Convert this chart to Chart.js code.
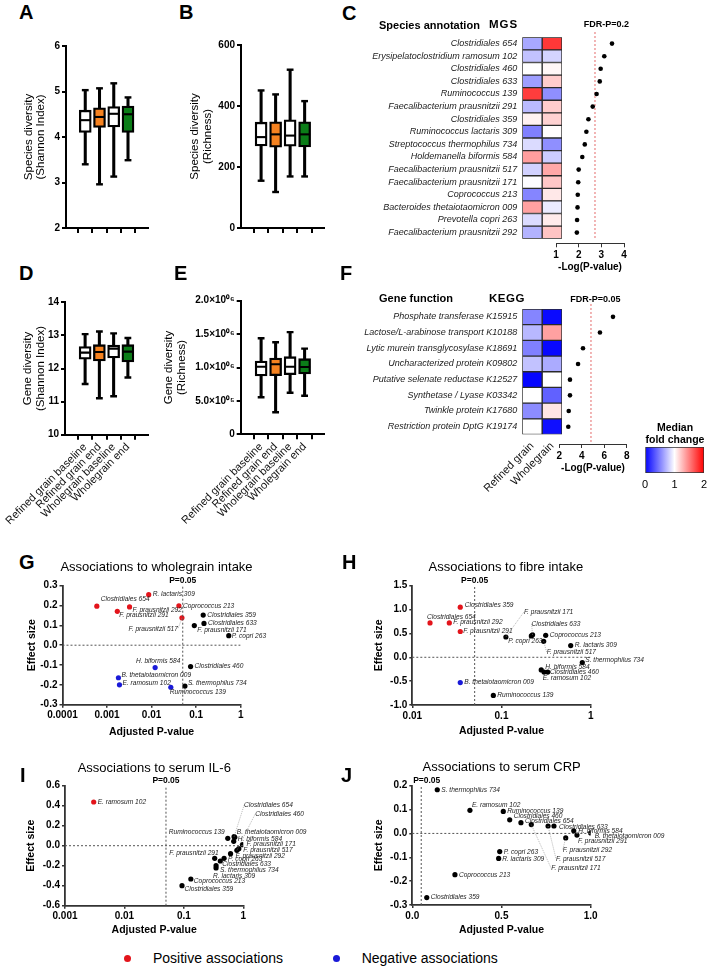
<!DOCTYPE html>
<html><head><meta charset="utf-8">
<script src="https://cdn.jsdelivr.net/npm/chart.js@4.4.1/dist/chart.umd.min.js"></script>
<style>
body{margin:0;background:#fff;}
#fig{position:relative;width:707px;height:966px;overflow:hidden;background:#fff;font-family:"Liberation Sans",Arial,Helvetica,sans-serif;color:#000;}
.t{position:absolute;white-space:nowrap;line-height:1;}
canvas{position:absolute;}
</style></head><body><div id="fig"></div>
<script>
// ---------------- DATA ----------------
const groups = ['Refined grain baseline','Refined grain end','Wholegrain baseline','Wholegrain end'];
// A: species Shannon
const aMin=[3.40,2.96,3.13,3.49], aQ1=[4.10,4.21,4.22,4.10], aMed=[4.37,4.44,4.51,4.50], aQ3=[4.59,4.64,4.67,4.68], aMax=[5.03,5.07,5.18,4.87];
const aTicks=[2,3,4,5,6], aTickLabels=['2','3','4','5','6'];
// B: species richness
const bMin=[155,118,169,169], bQ1=[269,265,268,266], bMed=[298,307,303,307], bQ3=[347,348,355,348], bMax=[451,438,519,416];
const bTicks=[0,200,400,600], bTickLabels=['0','200','400','600'];
// D: gene Shannon
const dMin=[11.53,11.10,11.16,11.73], dQ1=[12.28,12.23,12.32,12.20], dMed=[12.48,12.50,12.60,12.51], dQ3=[12.66,12.72,12.71,12.72], dMax=[13.04,13.12,13.06,12.92];
const dTicks=[10,11,12,13,14], dTickLabels=['10','11','12','13','14'];
// E: gene richness
const eMin=[554000,329000,623000,578000], eQ1=[873000,877000,892000,903000], eMed=[1012000,1048000,1012000,1007000], eQ3=[1097000,1142000,1162000,1132000], eMax=[1437000,1377000,1530000,1282000];
const eTicks=[0,500000,1000000,1500000,2000000], eTickLabels=['0','5.0×10⁰⁵','1.0×10⁰⁶','1.5×10⁰⁶','2.0×10⁰⁶'];

// C: MGS heatmap + -log(P)
const dietGroups=['Refined grain','Wholegrain'];
const species=['Clostridiales 654','Erysipelatoclostridium ramosum 102','Clostridiales 460','Clostridiales 633','Ruminococcus 139','Faecalibacterium prausnitzii 291','Clostridiales 359','Ruminococcus lactaris 309','Streptococcus thermophilus 734','Holdemanella biformis 584','Faecalibacterium prausnitzii 517','Faecalibacterium prausnitzii 171','Coprococcus 213','Bacteroides thetaiotaomicron 009','Prevotella copri 263','Faecalibacterium prausnitzii 292'];
const mgsRefinedFC=[0.66,0.76,1.00,0.62,1.76,0.73,1.05,0.50,0.86,1.38,0.82,0.99,0.52,1.37,0.86,0.70];
const mgsWholeFC=[1.78,0.83,1.03,1.20,0.56,1.20,1.18,1.01,0.56,0.80,1.34,1.22,1.09,0.92,1.08,1.23];
const mgsLogP=[3.47,3.13,2.97,2.93,2.79,2.62,2.43,2.34,2.27,2.16,2.00,1.98,1.96,1.95,1.93,1.92];
const mgsFdr=2.72, mgsXTicks=[1,2,3,4];
// F: KEGG heatmap + -log(P)
const kegg=['Phosphate transferase K15915','Lactose/L-arabinose transport K10188','Lytic murein transglycosylase K18691','Uncharacterized protein K09802','Putative selenate reductase K12527','Synthetase / Lyase K03342','Twinkle protein K17680','Restriction protein DptG K19174'];
const keggRefinedFC=[0.52,0.72,0.50,0.76,0.02,1.00,0.55,1.00];
const keggWholeFC=[0.04,1.37,0.03,0.67,1.00,0.38,1.10,0.06];
const keggLogP=[6.78,5.62,4.11,3.67,2.95,2.95,2.84,2.80];
const keggFdr=4.82, keggXTicks=[2,4,6,8];
const fcTicks=[0,1,2];

// G: wholegrain intake
const gNames=['Clostridiales 654','R. lactaris 309','F. prausnitzii 292','F. prausnitzii 291','Coprococcus 213','F. prausnitzii 517','Clostridiales 359','Clostridiales 633','F. prausnitzii 171','P. copri 263','H. biformis 584','Clostridiales 460','B. thetaiotaomicron 009','E. ramosum 102','S. thermophilus 734','Ruminococcus 139'];
const gPval=[0.00059,0.0086,0.0032,0.0017,0.041,0.048,0.144,0.15,0.091,0.54,0.012,0.075,0.0018,0.0019,0.056,0.027];
const gEffect=[0.197,0.255,0.193,0.171,0.199,0.138,0.152,0.110,0.099,0.048,-0.113,-0.108,-0.164,-0.200,-0.206,-0.212];
const gSig=['pos','pos','pos','pos','pos','pos','ns','ns','ns','ns','neg','ns','neg','neg','ns','neg'];
const gXTicks=[0.0001,0.001,0.01,0.1,1], gXLabels=['0.0001','0.001','0.01','0.1','1'];
const gYTicks=[-0.3,-0.2,-0.1,0,0.1,0.2,0.3], gYLabels=['-0.3','-0.2','-0.1','0.0','0.1','0.2','0.3'];
// H: fibre intake
const hNames=['Clostridiales 359','Clostridiales 654','F. prausnitzii 292','F. prausnitzii 291','B. thetaiotaomicron 009','F. prausnitzii 171','P. copri 263','Clostridiales 633','Coprococcus 213','F. prausnitzii 517','R. lactaris 309','S. thermophilus 734','H. biformis 584','Clostridiales 460','E. ramosum 102','Ruminococcus 139'];
const hPval=[0.0345,0.0158,0.026,0.0345,0.0345,0.112,0.216,0.223,0.313,0.297,0.597,0.805,0.279,0.30,0.33,0.081];
const hEffect=[1.05,0.72,0.72,0.54,-0.53,0.425,0.447,0.47,0.46,0.335,0.245,-0.11,-0.266,-0.31,-0.31,-0.80];
const hSig=['pos','pos','pos','pos','neg','ns','ns','ns','ns','ns','ns','ns','ns','ns','ns','ns'];
const hXTicks=[0.01,0.1,1], hXLabels=['0.01','0.1','1'];
const hYTicks=[-1,-0.5,0,0.5,1,1.5], hYLabels=['-1.0','-0.5','0.0','0.5','1.0','1.5'];
// I: serum IL-6
const iNames=['E. ramosum 102','Ruminococcus 139','B. thetaiotaomicron 009','H. biformis 584','Clostridiales 654','Clostridiales 460','F. prausnitzii 171','F. prausnitzii 517','F. prausnitzii 292','F. prausnitzii 291','P. copri 263','Clostridiales 633','S. thermophilus 734','R. lactaris 309','Coprococcus 213','Clostridiales 359'];
const iPval=[0.00304,0.548,0.72,0.69,0.70,0.78,0.97,0.84,0.61,0.33,0.475,0.41,0.348,0.348,0.131,0.093];
const iEffect=[0.437,0.074,0.084,0.044,0.09,-0.046,0.01,-0.03,-0.08,-0.126,-0.126,-0.153,-0.20,-0.223,-0.333,-0.40];
const iSig=['pos','ns','ns','ns','ns','ns','ns','ns','ns','ns','ns','ns','ns','ns','ns','ns'];
const iXTicks=[0.001,0.01,0.1,1], iXLabels=['0.001','0.01','0.1','1'];
const iYTicks=[-0.6,-0.4,-0.2,0,0.2,0.4,0.6], iYLabels=['-0.6','-0.4','-0.2','0.0','0.2','0.4','0.6'];
// J: serum CRP
const jNames=['S. thermophilus 734','E. ramosum 102','Ruminococcus 139','Clostridiales 460','Clostridiales 654','F. prausnitzii 171','F. prausnitzii 517','Clostridiales 633','H. biformis 584','F. prausnitzii 291','B. thetaiotaomicron 009','F. prausnitzii 292','P. copri 263','R. lactaris 309','Coprococcus 213','Clostridiales 359'];
const jPval=[0.14,0.323,0.51,0.546,0.609,0.667,0.761,0.794,0.905,0.923,1.0,0.86,0.49,0.484,0.239,0.081];
const jEffect=[0.183,0.097,0.092,0.057,0.045,0.037,0.031,0.031,0.011,-0.007,0.002,-0.019,-0.076,-0.105,-0.173,-0.269];
const jSig=['ns','ns','ns','ns','ns','ns','ns','ns','ns','ns','ns','ns','ns','ns','ns','ns'];
const jXTicks=[0,0.5,1], jXLabels=['0.0','0.5','1.0'];
const jYTicks=[-0.3,-0.2,-0.1,0,0.1,0.2], jYLabels=['-0.3','-0.2','-0.1','0.0','0.1','0.2'];
const pCut=0.05;

// label placement (pixel offsets from each point: dx, dy, align, leader line)
const gPlace=[[4,-6.5,'left',0],[4,0,'left',0],[3,3,'left',0],[2,4,'left',0],[4,0,'left',0],[-4,11,'right',1],[4,0,'left',0],[4,0,'left',0],[3,5,'left',0],[3,0,'left',0],[3,-6,'center',0],[4,0,'left',0],[3,-2.5,'left',0],[3,-2,'left',0],[3,-2.5,'left',0],[-1,5,'left',0]];
const hPlace=[[4.5,-2,'left',0],[-3,-6,'left',0],[4,-0.5,'left',0],[3,0,'left',0],[4,0,'left',0],[18,-25,'left',1],[-6,5,'center',0],[-1,-11,'left',1],[4,0,'left',0],[3,11,'left',1],[4,0,'left',0],[3,-2,'left',0],[4,-3,'left',0],[6,0,'left',0],[-5,6,'left',0],[4,0,'left',0]];
const iPlace=[[4,0,'left',0],[-3,-6,'right',0],[2,-5,'left',0],[4,-2.5,'left',0],[10,-31.5,'left',1],[18.3,-36.3,'left',1],[4,-1,'left',0],[4.5,1.5,'left',0],[5,2,'left',0],[4,-5.5,'right',0],[4,1,'left',0],[2,3,'left',0],[4,4,'left',0],[-3,8,'left',0],[3,2,'left',0],[2.5,3,'left',0]];
const jPlace=[[4,0,'left',0],[2,-5.5,'left',0],[4,0,'left',0],[4,-4,'left',0],[4,-2,'left',0],[20,44,'left',1],[8,33,'left',1],[5,1,'left',0],[4.5,0.5,'left',0],[1,6.5,'left',0],[4,3,'left',0],[-3,12,'left',1],[4,1,'left',0],[3.5,1,'left',0],[4,0,'left',0],[4,0,'left',0]];

// ---------------- HELPERS ----------------
const FONT='"Liberation Sans", Arial, Helvetica, sans-serif';
Chart.defaults.font.family=FONT;
Chart.defaults.color='#000';
const fig=document.getElementById('fig');
const ORANGE='#f58220', GREEN='#0b7d18';
const boxFill=['#ffffff',ORANGE,'#ffffff',GREEN];

function fixedTicks(vals){ return s=>{ s.ticks=vals.map(v=>({value:v})); }; }
function fcColor(v){
  if(v<=1){ const t=Math.max(0,v); const c=Math.round(255*t); return `rgb(${c},${c},255)`; }
  const t=Math.min(1,v-1); const c=Math.round(255*(1-t)); return `rgb(255,${c},${c})`;
}
function make(box, area, cfg, t){
  t=t||{};
  const c=document.createElement('canvas');
  c.width=box.w; c.height=box.h;
  c.style.left=box.x+'px'; c.style.top=box.y+'px';
  fig.appendChild(c);
  const xs=cfg.options.scales.x, ys=cfg.options.scales.y;
  const xVis=xs.display!==false, yVis=ys.display!==false;
  const pad={top:area.t-box.y, right:box.x+box.w-area.r, left:0, bottom:0};
  if(yVis){ const w=area.l-box.x; ys.afterFit=s=>{s.width=w; s.paddingTop=0; s.paddingBottom=0; s.paddingLeft=0; s.paddingRight=0;}; }
  else pad.left=area.l-box.x;
  if(xVis){ const h=box.y+box.h-area.b; xs.afterFit=s=>{s.height=h; s.paddingLeft=0; s.paddingRight=0; s.paddingTop=0; s.paddingBottom=0;}; }
  else pad.bottom=box.y+box.h-area.b;
  if(t.y){ const lhm=t.y.lh||1.2; const lh=t.y.size*lhm;
    ys.title={display:true,text:t.y.text,color:'#000',font:{size:t.y.size,weight:t.y.weight||'normal',lineHeight:lhm},padding:{top:t.y.cx-box.x-lh/2,bottom:0}}; }
  if(t.x){ const lh=t.x.size*1.2;
    xs.title={display:true,text:t.x.text,color:'#000',font:{size:t.x.size,weight:t.x.weight||'normal',lineHeight:1.2},padding:{top:0,bottom:box.y+box.h-t.x.cy-lh/2}}; }
  cfg.options.layout={padding:pad};
  cfg.options.responsive=false; cfg.options.animation=false; cfg.options.devicePixelRatio=1;
  cfg.options.plugins=Object.assign({legend:{display:false},tooltip:{enabled:false},title:{display:false}}, cfg.options.plugins||{});
  return new Chart(c,cfg);
}
function txt(s, x, y, size, opts){
  opts=opts||{};
  const d=document.createElement('div'); d.className='t';
  d.innerHTML=s;
  d.style.fontSize=size+'px';
  d.style.fontWeight=opts.bold?'bold':'normal';
  if(opts.italic) d.style.fontStyle='italic';
  if(opts.ls) d.style.letterSpacing=opts.ls+'px';
  const lh=opts.lh||size;
  d.style.lineHeight=lh+'px';
  d.style.top=(y - lh*0.5)+'px';
  d.style.left=x+'px';
  if(opts.center){ d.style.transform='translateX(-50%)'; d.style.textAlign='center'; }
  fig.appendChild(d); return d;
}

// ---------------- BOX PLOTS ----------------
function boxPanel(box, area, xr, yMin, yMax, yTicks, yLabels, st, yTitle, yTitleCx, showX){
  const [mn,q1,md,q3,mx]=st;
  const ix=groups.map((g,i)=>i);
  const pts=arr=>ix.map(i=>({x:i,y:arr[i]}));
  const cfg={type:'bar', data:{datasets:[
    {type:'bar', data:ix.map(i=>({x:i,y:[mn[i],mx[i]]})), backgroundColor:'#000', barThickness:2.4, grouped:false, order:4},
    {type:'bar', data:ix.map(i=>({x:i,y:[q1[i],q3[i]]})), backgroundColor:boxFill, borderColor:'#000', borderWidth:2.3, borderSkipped:false, barThickness:12, grouped:false, order:3},
    {type:'line', data:pts(md), showLine:false, pointStyle:'line', pointRadius:5.5, pointBorderWidth:2.1, pointBorderColor:'#000', order:1},
    {type:'line', data:pts(mx), showLine:false, pointStyle:'line', pointRadius:3.4, pointBorderWidth:2.4, pointBorderColor:'#000', order:2},
    {type:'line', data:pts(mn), showLine:false, pointStyle:'line', pointRadius:3.4, pointBorderWidth:2.4, pointBorderColor:'#000', order:2}
  ]}, options:{scales:{
    x:{type:'linear', min:xr[0], max:xr[1], afterBuildTicks:fixedTicks(ix),
       grid:{display:true, drawOnChartArea:false, drawTicks:true, tickLength:5, color:'#000', lineWidth:2},
       border:{display:true, color:'#000', width:2},
       ticks:{display:showX, autoSkip:false, minRotation:45, maxRotation:45, padding:1, color:'#111', font:{size:11}, callback:(v,i)=>groups[i]}},
    y:{type:'linear', min:yMin, max:yMax, afterBuildTicks:fixedTicks(yTicks),
       grid:{display:true, drawOnChartArea:false, drawTicks:true, tickLength:4, color:'#000', lineWidth:2},
       border:{display:true, color:'#000', width:2},
       ticks:{padding:2, font:{size:10, weight:'bold'}, callback:(v,i)=>yLabels[i]}}
  }}};
  return make(box, area, cfg, {y:{text:yTitle, size:11.5, cx:yTitleCx, lh:1.1}});
}
boxPanel({x:0,y:30,w:165,h:210},{l:66,t:46,r:148,b:228},[-0.632,3.684],2,6,aTicks,aTickLabels,[aMin,aQ1,aMed,aQ3,aMax],['Species diversity','(Shannon Index)'],28.5,false);
boxPanel({x:170,y:30,w:165,h:210},{l:241,t:45,r:324,b:228},[-0.67,3.62],0,600,bTicks,bTickLabels,[bMin,bQ1,bMed,bQ3,bMax],['Species diversity','(Richness)'],195,false);
boxPanel({x:0,y:290,w:165,h:240},{l:65,t:302.3,r:148,b:434.7},[-0.684,3.684],10,14,dTicks,dTickLabels,[dMin,dQ1,dMed,dQ3,dMax],['Gene diversity','(Shannon Index)'],28,true);
boxPanel({x:150,y:290,w:185,h:240},{l:240.7,t:300.7,r:324,b:434.3},[-0.69,3.62],0,2000000,eTicks,eTickLabels,[eMin,eQ1,eMed,eQ3,eMax],['Gene diversity','(Richness)'],169.3,true);

// ---------------- HEATMAPS ----------------
function heatPanel(box, area, rows, fcA, fcB, showX){
  const cfg={type:'bar', data:{labels:rows, datasets:[
    {data:rows.map(()=>[0,1]), backgroundColor:fcA.map(fcColor), borderColor:'#2a2a2a', borderWidth:1, borderSkipped:false, barPercentage:1, categoryPercentage:1, grouped:false},
    {data:rows.map(()=>[1,2]), backgroundColor:fcB.map(fcColor), borderColor:'#2a2a2a', borderWidth:1, borderSkipped:false, barPercentage:1, categoryPercentage:1, grouped:false}
  ]}, options:{indexAxis:'y', scales:{
    x:{type:'linear', min:0, max:2, display:showX, afterBuildTicks:fixedTicks([0.5,1.5]),
       grid:{display:false, drawTicks:false}, border:{display:false},
       ticks:{autoSkip:false, minRotation:45, maxRotation:45, padding:5, color:'#111', font:{size:11}, callback:(v,i)=>dietGroups[i]}},
    y:{type:'category', grid:{display:false, drawTicks:false}, border:{display:false},
       ticks:{autoSkip:false, padding:5, color:'#222', font:{size:9, style:'italic'}}}
  }}};
  return make(box, area, cfg);
}
heatPanel({x:340,y:30,w:230,h:215},{l:522.3,t:37.3,r:562,b:238.7},species,mgsRefinedFC,mgsWholeFC,false);
heatPanel({x:330,y:300,w:240,h:200},{l:522.3,t:309,r:562,b:434.5},kegg,keggRefinedFC,keggWholeFC,true);

function dotPanel(box, area, vals, xMin, xMax, xTicks, fdr, yMax, fdrY, fdrText, fdrDx, fdrDy, titleCy){
  const fdrLabel={id:'fdrLabel', afterDatasetsDraw(ch){
    const c=ch.ctx; c.save(); c.font='bold 9px '+FONT; c.fillStyle='#000'; c.textAlign='center'; c.textBaseline='middle';
    c.fillText(fdrText, ch.scales.x.getPixelForValue(fdr)+fdrDx, ch.chartArea.top+fdrDy); c.restore(); }};
  const cfg={type:'scatter', data:{datasets:[
    {data:vals.map((v,i)=>({x:v,y:i})), pointRadius:2.3, backgroundColor:'#000', borderWidth:0},
    {type:'line', data:[{x:fdr,y:fdrY[0]},{x:fdr,y:fdrY[1]}], borderColor:'#e46a6a', borderWidth:1, borderDash:[2,2], pointRadius:0, clip:false}
  ]}, options:{scales:{
    x:{type:'linear', min:xMin, max:xMax, afterBuildTicks:fixedTicks(xTicks),
       grid:{display:true, drawOnChartArea:false, tickLength:4, color:'#333', lineWidth:1},
       border:{display:true, color:'#333', width:1},
       ticks:{padding:2, font:{size:10, weight:'bold'}, callback:v=>String(v)}},
    y:{type:'linear', reverse:true, min:-0.5, max:yMax, display:false}
  }}, plugins:[fdrLabel]};
  return make(box, area, cfg, {x:{text:'-Log(P-value)', size:10, weight:'bold', cy:titleCy}});
}
dotPanel({x:545,y:15,w:95,h:260},{l:556,t:37.3,r:624,b:243.3},mgsLogP,1,4,mgsXTicks,mgsFdr,15.85,[-0.92,15.59],'FDR-P=0.2',11.5,-12.3,267);
dotPanel({x:548,y:290,w:90,h:185},{l:559.3,t:309,r:626.7,b:444},keggLogP,2,8,keggXTicks,keggFdr,8.1,[-0.82,8.1],'FDR-P=0.05',4.3,-9,468.3);

// colour bar
(function(){
  const cfg={type:'bar', data:{labels:['fold'], datasets:[
    {data:[[fcTicks[0],fcTicks[2]]], borderColor:'#333', borderWidth:1, borderSkipped:false, barPercentage:1, categoryPercentage:1,
     backgroundColor:(ctx)=>{ const a=ctx.chart.chartArea; if(!a) return '#fff';
       const g=ctx.chart.ctx.createLinearGradient(a.left,0,a.right,0);
       g.addColorStop(0,fcColor(0)); g.addColorStop(0.5,fcColor(1)); g.addColorStop(1,fcColor(2)); return g; }}
  ]}, options:{indexAxis:'y', scales:{
    x:{type:'linear', min:0, max:2, afterBuildTicks:fixedTicks(fcTicks), z:1,
       grid:{display:true, drawOnChartArea:true, drawTicks:false, lineWidth:1, color:c=>(c.tick&&c.tick.value===1)?'#444':'rgba(0,0,0,0)'},
       border:{display:false}, ticks:{padding:5, font:{size:11}, callback:v=>String(v)}},
    y:{type:'category', display:false}
  }}};
  make({x:630,y:440,w:77,h:55},{l:645,t:447,r:704,b:473},cfg);
})();

// ---------------- SCATTER PANELS ----------------
function scatterPanel(box, area, P){
  const col={pos:'#e3141b', neg:'#1a1ad8', ns:'#000'};
  const sets=['ns','pos','neg'].map(k=>({
    data:P.names.map((n,i)=>P.sig[i]===k?{x:P.p[i],y:P.e[i]}:null).filter(Boolean),
    backgroundColor:col[k], borderWidth:0, pointRadius:2.6 }));
  const dash={type:'line', borderColor:'#555', borderWidth:1, borderDash:[2,2], pointRadius:0};
  sets.unshift(Object.assign({data:[{x:pCut,y:P.yTicks[0]},{x:pCut,y:P.yTicks[P.yTicks.length-1]}]},dash));
  sets.unshift(Object.assign({data:[{x:P.xTicks[0],y:0},{x:P.xTicks[P.xTicks.length-1],y:0}]},dash));
  const labels={id:'ptLabels', afterDatasetsDraw(ch){
    const c=ch.ctx, xs=ch.scales.x, ys=ch.scales.y;
    c.save();
    c.font='italic 6.6px '+FONT; c.textBaseline='middle';
    P.names.forEach((n,i)=>{
      const px=xs.getPixelForValue(P.p[i]), py=ys.getPixelForValue(P.e[i]);
      const [dx,dy,al,lead]=P.place[i];
      const lx=px+dx, ly=py+dy;
      if(lead){ c.strokeStyle='#8a8a8a'; c.lineWidth=0.6; c.setLineDash([1,1]); c.beginPath(); c.moveTo(px,py); c.lineTo(lx,ly); c.stroke(); c.setLineDash([]); }
      c.fillStyle='#222'; c.textAlign=al; c.fillText(n,lx,ly);
    });
    c.font='bold 8.5px '+FONT; c.fillStyle='#000'; c.textAlign='center';
    c.fillText('P=0.05', xs.getPixelForValue(pCut)+P.pDx, ch.chartArea.top-4.8);
    c.restore();
  }};
  const cfg={type:'scatter', data:{datasets:sets}, options:{scales:{
    x:{type:P.xType, min:P.xTicks[0], max:P.xTicks[P.xTicks.length-1], afterBuildTicks:fixedTicks(P.xTicks),
       grid:{display:true, drawOnChartArea:false, tickLength:3, color:'#333', lineWidth:1.5},
       border:{display:true, color:'#333', width:1.8},
       ticks:{padding:2, autoSkip:false, maxRotation:0, font:{size:10, weight:'bold'}, callback:(v,i)=>P.xLabels[i]}},
    y:{type:'linear', min:P.yTicks[0], max:P.yTicks[P.yTicks.length-1], afterBuildTicks:fixedTicks(P.yTicks),
       grid:{display:true, drawOnChartArea:false, tickLength:3, color:'#333', lineWidth:1.5},
       border:{display:true, color:'#333', width:1.8},
       ticks:{padding:2, font:{size:10, weight:'bold'}, callback:(v,i)=>P.yLabels[i]}}
  }}, plugins:[labels]};
  return make(box, area, cfg, {x:{text:'Adjusted P-value', size:10.5, weight:'bold', cy:P.xTitleCy}, y:{text:'Effect size', size:10.5, weight:'bold', cx:P.yTitleCx}});
}
scatterPanel({x:0,y:575,w:300,h:170},{l:62.5,t:585.7,r:240.7,b:704.7},{xType:'logarithmic',names:gNames,p:gPval,e:gEffect,sig:gSig,place:gPlace,xTicks:gXTicks,xLabels:gXLabels,yTicks:gYTicks,yLabels:gYLabels,pDx:0,xTitleCy:732,yTitleCx:32});
scatterPanel({x:340,y:575,w:367,h:170},{l:412.3,t:585.7,r:590.7,b:705},{xType:'logarithmic',names:hNames,p:hPval,e:hEffect,sig:hSig,place:hPlace,xTicks:hXTicks,xLabels:hXLabels,yTicks:hYTicks,yLabels:hYLabels,pDx:0,xTitleCy:731,yTitleCx:379.5});
scatterPanel({x:0,y:775,w:340,h:170},{l:65,t:785.7,r:243.3,b:905.7},{xType:'logarithmic',names:iNames,p:iPval,e:iEffect,sig:iSig,place:iPlace,xTicks:iXTicks,xLabels:iXLabels,yTicks:iYTicks,yLabels:iYLabels,pDx:0,xTitleCy:930,yTitleCx:31.5});
scatterPanel({x:340,y:775,w:367,h:170},{l:412.3,t:785.7,r:590.7,b:905},{xType:'linear',names:jNames,p:jPval,e:jEffect,sig:jSig,place:jPlace,xTicks:jXTicks,xLabels:jXLabels,yTicks:jYTicks,yLabels:jYLabels,pDx:5.5,xTitleCy:930,yTitleCx:378.7});

// ---------------- STATIC TEXT ----------------
[['A',19,12],['B',179,12],['C',342,13],['D',19,273],['E',174,273],['F',340,273],['G',19,562],['H',342,562],['I',20,775],['J',341,775]]
  .forEach(([s,x,y])=>txt(s,x,y,20,{bold:true}));
txt('Species annotation',379,25,11,{bold:true});
txt('MGS',489,25,11.5,{bold:true,ls:1});
txt('Gene function',379,298,11,{bold:true});
txt('KEGG',489,299,11.5,{bold:true,ls:0.5});
txt('Median<br>fold change',675,427,10.5,{bold:true,center:true,lh:12.5});
txt('Associations to wholegrain intake',156.5,566,13,{center:true});
txt('Associations to fibre intake',505.8,566.7,13,{center:true});
txt('Associations to serum IL-6',154.3,767.3,13,{center:true});
txt('Associations to serum CRP',501.7,766.7,13,{center:true});
// bottom legend
function dot(x,y,c){ const d=document.createElement('div'); d.style.cssText=`position:absolute;left:${x-3.5}px;top:${y-3.5}px;width:7px;height:7px;border-radius:50%;background:${c}`; fig.appendChild(d); }
dot(127.7,958,'#e3141b'); txt('Positive associations',153,958,14);
dot(336,958,'#1a1ad8'); txt('Negative associations',361.7,958,14);
</script></body></html>
